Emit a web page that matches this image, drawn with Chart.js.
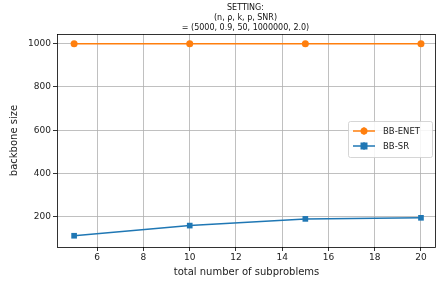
<!DOCTYPE html>
<html lang="en">
<head>
    <meta charset="UTF-8">
    <title>Backbone size vs subproblems</title>
    <script src="https://cdn.jsdelivr.net/npm/chart.js"></script>
    <style>
        html, body { margin: 0; padding: 0; background: #fff; }
        #wrap { width: 437px; height: 282px; }
    </style>
</head>
<body>
    <div id="wrap"><canvas id="chart" width="437" height="282"></canvas></div>

    <script>
        // data
        const subproblems = [5, 10, 15, 20];
        const enetSize = [1000, 1000, 1000, 1000];
        const srSize = [112, 159, 190, 195];
        const xTicks = [6, 8, 10, 12, 14, 16, 18, 20];
        const yTicks = [200, 400, 600, 800, 1000];
        const titleLines = ['SETTING:', '(n, \u03c1, k, p, SNR)', '= (5000, 0.9, 50, 1000000, 2.0)'];

        const FONT = 'DejaVu Sans';

        // title over the plot area, frame and legend inside the plot
        const extras = {
            id: 'extras',
            afterDraw(chart) {
                const ctx = chart.ctx;
                const a = chart.chartArea;
                ctx.save();

                // frame
                ctx.strokeStyle = '#000';
                ctx.lineWidth = 0.8;
                ctx.strokeRect(a.left + 0.5, a.top + 0.5, a.right - a.left - 1, a.bottom - a.top);

                // title
                ctx.fillStyle = '#111';
                ctx.font = '8px ' + FONT;
                ctx.textAlign = 'center';
                ctx.textBaseline = 'alphabetic';
                const cx = (a.left + a.right) / 2 - 1;
                titleLines.forEach((t, i) => ctx.fillText(t, cx, 10 + i * 10.2));

                // legend
                const lx = 348, ly = 121, lw = 84, lh = 36;
                ctx.fillStyle = 'rgba(255,255,255,0.85)';
                ctx.strokeStyle = '#cccccc';
                ctx.lineWidth = 0.8;
                ctx.beginPath();
                ctx.roundRect(lx + 0.5, ly + 0.5, lw, lh, 2);
                ctx.fill();
                ctx.stroke();
                chart.data.datasets.forEach((ds, i) => {
                    const y = ly + 10 + i * 15;
                    ctx.strokeStyle = ds.borderColor;
                    ctx.fillStyle = ds.borderColor;
                    ctx.lineWidth = 1.5;
                    ctx.beginPath();
                    ctx.moveTo(lx + 5, y);
                    ctx.lineTo(lx + 27, y);
                    ctx.stroke();
                    ctx.lineWidth = 1;
                    ctx.beginPath();
                    ctx.moveTo(lx + 16, y - 4);
                    ctx.lineTo(lx + 16, y + 4);
                    ctx.stroke();
                    if (ds.pointStyle === 'rect') {
                        ctx.fillRect(lx + 12.5, y - 3.5, 7, 7);
                    } else {
                        ctx.beginPath();
                        ctx.arc(lx + 16, y, 3.5, 0, Math.PI * 2);
                        ctx.fill();
                    }
                    ctx.fillStyle = '#222';
                    ctx.font = '8.5px ' + FONT;
                    ctx.textAlign = 'left';
                    ctx.textBaseline = 'middle';
                    ctx.fillText(ds.label, lx + 35, y + 0.5);
                });
                ctx.restore();
            }
        };

        new Chart(document.getElementById('chart'), {
            type: 'line',
            data: {
                datasets: [{
                    label: 'BB-ENET',
                    data: subproblems.map((x, i) => ({ x: x, y: enetSize[i] })),
                    borderColor: '#ff7f0e',
                    backgroundColor: '#ff7f0e',
                    borderWidth: 1.5,
                    pointStyle: 'circle',
                    pointRadius: 3.5,
                    pointBorderWidth: 0
                }, {
                    label: 'BB-SR',
                    data: subproblems.map((x, i) => ({ x: x, y: srSize[i] })),
                    borderColor: '#1f77b4',
                    backgroundColor: '#1f77b4',
                    borderWidth: 1.5,
                    pointStyle: 'rect',
                    pointRadius: 4,
                    pointBorderWidth: 0
                }]
            },
            options: {
                responsive: false,
                animation: false,
                layout: { autoPadding: false, padding: { top: 34, right: 1, left: 4, bottom: 0 } },
                plugins: {
                    legend: { display: false },
                    tooltip: { enabled: false },
                    title: { display: false }
                },
                scales: {
                    x: {
                        type: 'linear',
                        min: 4.26,
                        max: 20.65,
                        afterBuildTicks: s => { s.ticks = xTicks.map(v => ({ value: v })); },
                        afterFit: s => { s.height = 35; s.paddingLeft = 0; s.paddingRight = 0; },
                        grid: { color: '#b0b0b0', lineWidth: 0.8, tickColor: '#000', tickLength: 4 },
                        border: { display: false },
                        ticks: { color: '#222', font: { family: FONT, size: 9 }, padding: 1, maxRotation: 0,
                                 callback: v => String(v) },
                        title: { display: true, text: 'total number of subproblems', color: '#222',
                                 font: { family: FONT, size: 10 }, padding: { top: 0 } }
                    },
                    y: {
                        min: 60,
                        max: 1045,
                        afterBuildTicks: s => { s.ticks = yTicks.map(v => ({ value: v })); },
                        afterFit: s => { s.width = 53; s.paddingTop = 0; s.paddingBottom = 0; },
                        grid: { color: '#b0b0b0', lineWidth: 0.8, tickColor: '#000', tickLength: 4 },
                        border: { display: false },
                        ticks: { color: '#222', font: { family: FONT, size: 9 }, padding: 2,
                                 callback: v => String(v) },
                        title: { display: true, text: 'backbone size', color: '#222',
                                 font: { family: FONT, size: 10 }, padding: { bottom: 2 } }
                    }
                }
            },
            plugins: [extras]
        });
    </script>
</body>
</html>
